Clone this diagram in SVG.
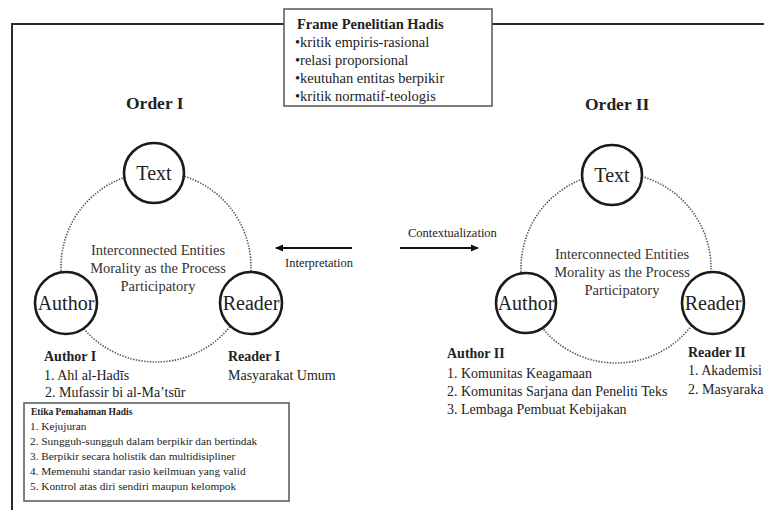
<svg xmlns="http://www.w3.org/2000/svg" width="764" height="510" viewBox="0 0 764 510">
<defs>
<marker id="ah" markerWidth="8" markerHeight="8" refX="7" refY="4" orient="auto" markerUnits="userSpaceOnUse">
<path d="M0,0.5 L8,4 L0,7.5 Z" fill="#111"/>
</marker>
<style>
text{font-family:"Liberation Serif","Times New Roman",serif;fill:#222;}
.b{font-weight:bold;}
.node{fill:#fff;stroke:#1a1a1a;stroke-width:2.6;}
.ring{fill:none;stroke:#555;stroke-width:1.6;stroke-dasharray:1.4 1.4;}
.lbl{font-size:20px;text-anchor:middle;}
.mid{font-size:14.5px;text-anchor:middle;fill:#333;}
.lst{font-size:14px;}
.sm{font-size:11.3px;}
.arr{stroke:#111;stroke-width:2;fill:none;}
.frame{fill:none;stroke:#2a2a2a;stroke-width:2;}
.box{fill:#fff;stroke:#555;stroke-width:1.5;}
</style>
</defs>
<rect width="764" height="510" fill="#fff"/>
<g id="outer-frame">
<path class="frame" d="M12,510 V24 H284 M492,24 H766"/>
</g>
<g id="frame-box">
<rect class="box" x="284" y="9" width="208" height="97"/>
<text class="b" x="297" y="29" font-size="14.5">Frame Penelitian Hadis</text>
<text x="295" y="47" font-size="14.5">•kritik empiris-rasional</text>
<text x="295" y="65" font-size="14.5">•relasi proporsional</text>
<text x="295" y="83" font-size="14.5">•keutuhan entitas berpikir</text>
<text x="295" y="101" font-size="14.5">•kritik normatif-teologis</text>
</g>
<g id="order1-title"><text class="b" x="126" y="109" font-size="17.5">Order I</text></g>
<g id="order2-title"><text class="b" x="585" y="110" font-size="17.5">Order II</text></g>
<g id="order1-ring">
<circle class="ring" cx="156" cy="267" r="95"/>
<text class="mid" x="158" y="255">Interconnected  Entities</text>
<text class="mid" x="158" y="273">Morality as the Process</text>
<text class="mid" x="158" y="291">Participatory</text>
</g>
<g id="order2-ring">
<circle class="ring" cx="616" cy="268" r="95"/>
<text class="mid" x="622" y="259">Interconnected  Entities</text>
<text class="mid" x="622" y="277">Morality as the Process</text>
<text class="mid" x="622" y="295">Participatory</text>
</g>
<g id="text1"><circle class="node" cx="154" cy="173" r="30"/><text class="lbl" x="154" y="180">Text</text></g>
<g id="author1"><circle class="node" cx="66" cy="303" r="31"/><text class="lbl" x="66" y="310">Author</text></g>
<g id="reader1"><circle class="node" cx="251" cy="303" r="31"/><text class="lbl" x="251" y="310">Reader</text></g>
<g id="text2"><circle class="node" cx="612" cy="175" r="30"/><text class="lbl" x="612" y="182">Text</text></g>
<g id="author2"><circle class="node" cx="526" cy="303" r="30"/><text class="lbl" x="526" y="310">Author</text></g>
<g id="reader2"><circle class="node" cx="713" cy="303" r="31"/><text class="lbl" x="713" y="310">Reader</text></g>
<g id="connectors">
<line class="arr" x1="352" y1="248" x2="276" y2="248" marker-end="url(#ah)"/>
<line class="arr" x1="400" y1="248" x2="478" y2="248" marker-end="url(#ah)"/>
<text x="285" y="267" font-size="12.5">Interpretation</text>
<text x="408" y="237" font-size="12.5">Contextualization</text>
</g>
<g id="author1-list">
<text class="b lst" x="44" y="361">Author I</text>
<text class="lst" x="44" y="380">1. Ahl al-Hadīs</text>
<text class="lst" x="45" y="397">2. Mufassir bi al-Ma’tsūr</text>
</g>
<g id="reader1-list">
<text class="b lst" x="228" y="361">Reader I</text>
<text class="lst" x="228" y="380">Masyarakat  Umum</text>
</g>
<g id="author2-list">
<text class="b lst" x="447" y="358">Author II</text>
<text class="lst" x="447" y="378">1. Komunitas Keagamaan</text>
<text class="lst" x="447" y="396">2. Komunitas Sarjana  dan Peneliti Teks</text>
<text class="lst" x="447" y="414">3. Lembaga  Pembuat Kebijakan</text>
</g>
<g id="reader2-list">
<text class="b lst" x="688" y="357">Reader II</text>
<text class="lst" x="688" y="375">1. Akademisi</text>
<text class="lst" x="688" y="394">2. Masyarakat</text>
</g>
<g id="ethics-box">
<rect class="box" x="24" y="403" width="265" height="98"/>
<text class="b" x="31" y="415" font-size="9.5">Etika Pemahaman Hadis</text>
<text class="sm" x="30" y="430">1. Kejujuran</text>
<text class="sm" x="30" y="445">2. Sungguh-sungguh  dalam berpikir dan bertindak</text>
<text class="sm" x="30" y="460">3. Berpikir secara holistik dan multidisipliner</text>
<text class="sm" x="30" y="475">4. Memenuhi standar rasio keilmuan yang valid</text>
<text class="sm" x="30" y="490">5. Kontrol atas diri sendiri maupun kelompok</text>
</g>
</svg>
